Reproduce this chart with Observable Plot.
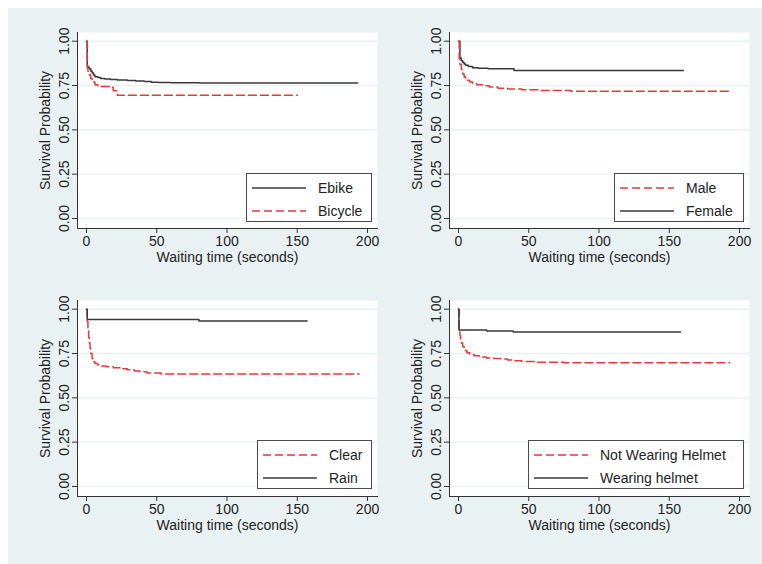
<!DOCTYPE html>
<html>
<head>
<meta charset="utf-8">
<script src="https://cdn.jsdelivr.net/npm/d3@7"></script>
<script src="https://cdn.jsdelivr.net/npm/@observablehq/plot@0.6"></script>
<style>
  body { margin: 0; background: #ffffff; }
  #wrap { position: relative; width: 762px; height: 564px; overflow: hidden;
          font-family: "Liberation Sans", Arial, Helvetica, sans-serif; }
  #bg { position: absolute; left: 8px; top: 8px; right: 0; bottom: 0; background: #eaf1f3; }
  .panel { position: absolute; }
  .legend { position: absolute; background: #ffffff; border: 1px solid #4a4a4a; box-sizing: border-box;
            font-size: 14px; color: #222; }
  .legend .row { position: absolute; left: 0; right: 0; height: 20px; }
  .legend svg { position: absolute; left: 0; top: 0; }
  .legend span { position: absolute; top: 2px; white-space: nowrap; }
</style>
</head>
<body>
<div id="wrap"><div id="bg"></div></div>
<script>
// ---------------- data ----------------
const xTicks = [0, 50, 100, 150, 200];
const yTicks = [0, 0.25, 0.5, 0.75, 1];
const xLabel = "Waiting time (seconds)";
const yLabel = "Survival Probability";

// Panel 1: vehicle type
const ebikeT   = [0, 0.5, 1, 2, 3, 4, 5, 6, 8, 10, 13, 17, 22, 29, 35, 41, 46, 51, 60, 80, 193];
const ebikeS   = [1, 0.86, 0.853, 0.845, 0.832, 0.82, 0.81, 0.80, 0.795, 0.79, 0.787, 0.784, 0.781, 0.778, 0.776, 0.772, 0.769, 0.767, 0.766, 0.764, 0.764];
const bicycleT = [0, 0.5, 1, 2, 3, 4, 6, 8, 17, 19, 22, 150];
const bicycleS = [1, 0.85, 0.83, 0.81, 0.79, 0.77, 0.755, 0.745, 0.74, 0.72, 0.695, 0.695];

// Panel 2: gender
const maleT   = [0, 0.5, 1, 2, 3, 4, 5, 6, 8, 10, 13, 17, 22, 28, 35, 45, 58, 80, 100, 193];
const maleS   = [1, 0.90, 0.87, 0.84, 0.815, 0.80, 0.79, 0.78, 0.77, 0.762, 0.755, 0.748, 0.742, 0.735, 0.73, 0.726, 0.722, 0.718, 0.717, 0.717];
const femaleT = [0, 1, 2, 3, 4, 5, 7, 10, 14, 21, 39.5, 160];
const femaleS = [1, 0.905, 0.89, 0.88, 0.872, 0.864, 0.857, 0.85, 0.847, 0.844, 0.835, 0.835];

// Panel 3: weather
const clearT = [0, 0.5, 1, 1.5, 2, 2.5, 3, 4, 5, 6, 8, 10, 14, 19, 24, 29, 34, 38, 43, 53, 194];
const clearS = [1, 0.93, 0.88, 0.84, 0.81, 0.78, 0.75, 0.72, 0.703, 0.693, 0.685, 0.68, 0.675, 0.67, 0.664, 0.658, 0.652, 0.647, 0.64, 0.635, 0.635];
const rainT  = [0, 0.5, 80, 157];
const rainS  = [1, 0.942, 0.934, 0.934];

// Panel 4: helmet
const noHelmetT = [0, 0.5, 1, 1.5, 2, 3, 4, 5, 6, 8, 11, 15, 20, 25, 30, 35, 40, 45, 55, 75, 193];
const noHelmetS = [1, 0.88, 0.85, 0.83, 0.81, 0.79, 0.775, 0.765, 0.755, 0.745, 0.737, 0.73, 0.725, 0.722, 0.719, 0.714, 0.709, 0.705, 0.701, 0.698, 0.698];
const helmetT   = [0, 0.3, 20, 39, 158];
const helmetS   = [1, 0.883, 0.877, 0.871, 0.871];

const legendLabels = [
  ["Ebike", "Bicycle"],
  ["Male", "Female"],
  ["Clear", "Rain"],
  ["Not Wearing Helmet", "Wearing helmet"]
];

// ---------------- styling / layout ----------------
const SOLID = "#383838";
const RED = "#e3393c";
const DASH = "8,4";
const BG = "#eaf1f3";

function toRows(name, T, S) { return T.map((t, i) => ({t, s: S[i], name})); }

const panels = [
  {left: 0,   top: 0,   series: [
      {name: "Ebike", rows: toRows("Ebike", ebikeT, ebikeS), dashed: false},
      {name: "Bicycle", rows: toRows("Bicycle", bicycleT, bicycleS), dashed: true}],
   legend: {left: 246, top: 173, width: 126}, order: [false, true]},
  {left: 372, top: 0,   series: [
      {name: "Female", rows: toRows("Female", femaleT, femaleS), dashed: false},
      {name: "Male", rows: toRows("Male", maleT, maleS), dashed: true}],
   legend: {left: 614, top: 173, width: 130}, order: [true, false]},
  {left: 0,   top: 268, series: [
      {name: "Clear", rows: toRows("Clear", clearT, clearS), dashed: true},
      {name: "Rain", rows: toRows("Rain", rainT, rainS), dashed: false}],
   legend: {left: 257, top: 440, width: 115}, order: [true, false]},
  {left: 372, top: 268, series: [
      {name: "Not Wearing Helmet", rows: toRows("Not Wearing Helmet", noHelmetT, noHelmetS), dashed: true},
      {name: "Wearing helmet", rows: toRows("Wearing helmet", helmetT, helmetS), dashed: false}],
   legend: {left: 528, top: 440, width: 216}, order: [true, false]}
];

const wrap = document.getElementById("wrap");

panels.forEach((p, idx) => {
  const lineMarks = p.series.map(s => Plot.line(s.rows, {
    x: "t", y: "s", curve: "step-after",
    stroke: s.dashed ? RED : SOLID, strokeWidth: 1.5,
    strokeDasharray: s.dashed ? DASH : null
  }));
  const chart = Plot.plot({
    width: 381, height: 282,
    marginLeft: 77, marginRight: 4, marginTop: 32, marginBottom: 54,
    style: {background: "transparent", fontFamily: '"Liberation Sans", Arial, sans-serif', fontSize: "14px", color: "#222", overflow: "visible"},
    x: {domain: [-6.41, 207.1]},
    y: {domain: [-0.0564, 1.049]},
    marks: [
      Plot.frame({fill: "white", stroke: null}),
      Plot.ruleY(yTicks, {stroke: BG, strokeWidth: 1.5}),
      Plot.axisY({ticks: yTicks, tickFormat: d3.format(".2f"), tickRotate: -90, tickSize: 5, tickPadding: 4,
                  label: yLabel, labelAnchor: "center", labelOffset: 37, labelArrow: "none", stroke: "#333", fill: "#222"}),
      Plot.axisX({ticks: xTicks, tickSize: 5, tickPadding: 3,
                  label: xLabel, labelAnchor: "center", labelOffset: 33, labelArrow: "none", stroke: "#333", fill: "#222"}),
      Plot.frame({anchor: "left", stroke: "#333"}),
      Plot.frame({anchor: "bottom", stroke: "#333"}),
      ...lineMarks
    ]
  });
  chart.classList.add("panel");
  chart.style.left = p.left + "px";
  chart.style.top = p.top + "px";
  wrap.appendChild(chart);

  // legend box
  const lg = document.createElement("div");
  lg.className = "legend";
  lg.style.left = p.legend.left + "px";
  lg.style.top = p.legend.top + "px";
  lg.style.width = p.legend.width + "px";
  lg.style.height = "49px";
  legendLabels[idx].forEach((lab, j) => {
    const dashed = p.order[j];
    const row = document.createElement("div");
    row.className = "row";
    row.style.top = (j === 0 ? 4 : 27) + "px";
    row.innerHTML = `<svg width="70" height="20"><line x1="5" x2="59" y1="10" y2="10" stroke="${dashed ? RED : SOLID}" stroke-width="1.5" ${dashed ? `stroke-dasharray="${DASH}"` : ""}/></svg><span style="left:71px">${lab}</span>`;
    lg.appendChild(row);
  });
  wrap.appendChild(lg);
});
</script>
</body>
</html>
